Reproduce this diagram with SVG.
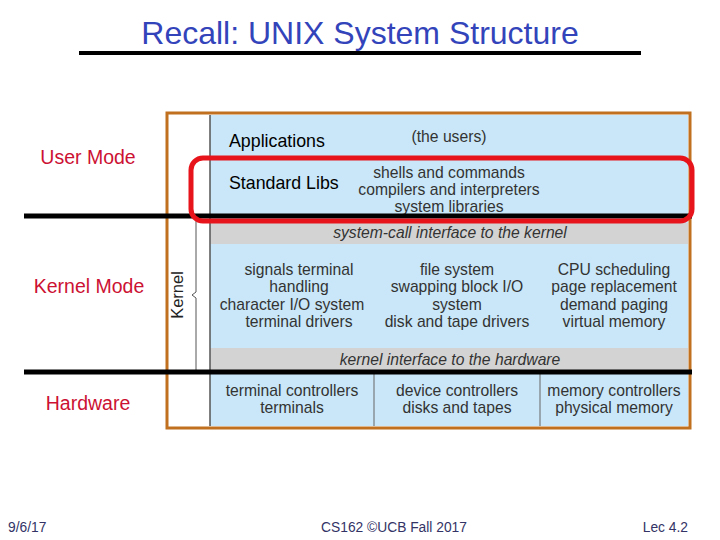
<svg xmlns="http://www.w3.org/2000/svg" width="720" height="540" viewBox="0 0 720 540">
<style>
.title{font-family:"Liberation Sans",Arial,sans-serif;font-size:32px;fill:#3344bb}
.mode{font-family:"Liberation Sans",Arial,sans-serif;font-size:19.5px;fill:#cc1133;text-anchor:middle}
.lbl{font-family:"Liberation Sans",Arial,sans-serif;font-size:17.8px;fill:#000}
.t{font-family:"Liberation Sans",Arial,sans-serif;font-size:15.7px;fill:#333;text-anchor:middle}
.it{font-family:"Liberation Sans",Arial,sans-serif;font-size:15.7px;fill:#333;text-anchor:middle;font-style:italic}
.foot{font-family:"Liberation Sans",Arial,sans-serif;font-size:13.8px;fill:#333366}
.blue{fill:#c9e7f8}
.gray{fill:#d3d3d3}
.bar{stroke:#000;stroke-width:5}
</style>
<rect width="720" height="540" fill="#fff"/>
<g id="title">
<text class="title" x="360" y="44" text-anchor="middle">Recall: UNIX System Structure</text>
<line x1="79" y1="53" x2="641" y2="53" stroke="#000" stroke-width="4"/>
</g>
<g id="frame">
<rect x="167" y="113" width="523" height="315" fill="#fff"/>
<rect class="blue" x="210" y="115" width="478" height="108"/>
<rect class="gray" x="210" y="223" width="478" height="21"/>
<rect class="blue" x="210" y="244" width="478" height="104"/>
<rect class="gray" x="210" y="348" width="478" height="24"/>
<rect class="blue" x="210" y="372" width="478" height="54"/>
<line x1="210" y1="115" x2="210" y2="426" stroke="#555" stroke-width="1.5"/>
<line x1="374" y1="374" x2="374" y2="426" stroke="#666" stroke-width="1"/>
<line x1="540" y1="374" x2="540" y2="426" stroke="#666" stroke-width="1"/>
<rect x="167" y="113" width="523" height="315" fill="none" stroke="#c0701f" stroke-width="3"/>
</g>
<g id="kernel-bracket">
<path d="M196 219 V292 L192 295 L196 298 V372" fill="none" stroke="#555" stroke-width="1"/>
<text class="lbl" x="0" y="0" transform="translate(183,295) rotate(-90)" text-anchor="middle" style="font-size:16.5px;fill:#222">Kernel</text>
</g>
<g id="applications">
<text class="lbl" x="229" y="147">Applications</text>
<text class="t" x="449" y="142">(the users)</text>
</g>
<g id="stdlibs">
<text class="lbl" x="229" y="189">Standard Libs</text>
<text class="t" x="449" y="178">shells and commands</text>
<text class="t" x="449" y="195">compilers and interpreters</text>
<text class="t" x="449" y="212">system libraries</text>
</g>
<g id="syscall">
<text class="it" x="450" y="238">system-call interface to the kernel</text>
</g>
<g id="kernel">
<text class="t" x="299" y="275">signals terminal</text>
<text class="t" x="299" y="292">handling</text>
<text class="t" x="292" y="310">character I/O system</text>
<text class="t" x="299" y="327">terminal drivers</text>
<text class="t" x="457" y="275">file system</text>
<text class="t" x="457" y="292">swapping block I/O</text>
<text class="t" x="457" y="310">system</text>
<text class="t" x="457" y="327">disk and tape drivers</text>
<text class="t" x="614" y="275">CPU scheduling</text>
<text class="t" x="614" y="292">page replacement</text>
<text class="t" x="614" y="310">demand paging</text>
<text class="t" x="614" y="327">virtual memory</text>
</g>
<g id="hwif">
<text class="it" x="450" y="365">kernel interface to the hardware</text>
</g>
<g id="hardware">
<text class="t" x="292" y="396">terminal controllers</text>
<text class="t" x="292" y="413">terminals</text>
<text class="t" x="457" y="396">device controllers</text>
<text class="t" x="457" y="413">disks and tapes</text>
<text class="t" x="614" y="396">memory controllers</text>
<text class="t" x="614" y="413">physical memory</text>
</g>
<g id="mode-lines">
<line class="bar" x1="24" y1="216" x2="692" y2="216"/>
<line class="bar" x1="24" y1="372" x2="692" y2="372"/>
</g>
<g id="highlight">
<rect x="191" y="158" width="501" height="63" rx="12" fill="none" stroke="#e8141c" stroke-width="5"/>
</g>
<g id="modes">
<text class="mode" x="88" y="164">User Mode</text>
<text class="mode" x="89" y="293">Kernel Mode</text>
<text class="mode" x="88" y="410">Hardware</text>
</g>
<g id="footer">
<text class="foot" x="8" y="532">9/6/17</text>
<text class="foot" x="394" y="532" text-anchor="middle">CS162 ©UCB Fall 2017</text>
<text class="foot" x="688" y="532" text-anchor="end">Lec 4.2</text>
</g>
</svg>
